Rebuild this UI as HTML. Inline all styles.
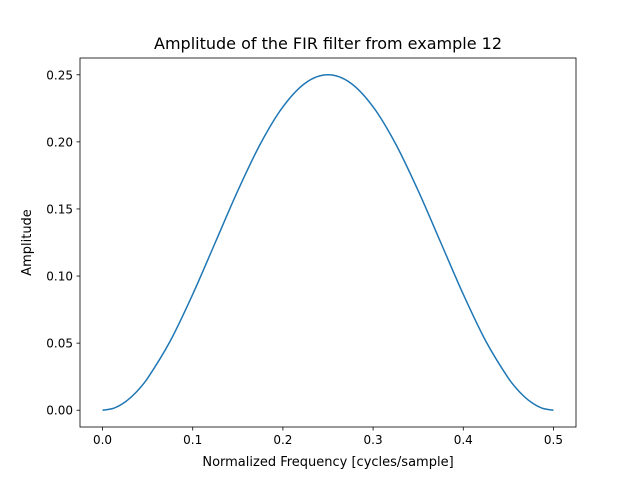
<!DOCTYPE html>
<html><head><meta charset="utf-8"><style>
body{margin:0;background:#fff;}
svg{font-family:"DejaVu Sans","Liberation Sans",sans-serif;}
</style></head><body>
<svg id="chart" width="640" height="480" viewBox="0 0 640 480">
<rect width="640" height="480" fill="#fff"/>
<text x="328" y="49" font-size="16" text-anchor="middle">Amplitude of the FIR filter from example 12</text>
<g id="plot"></g>
<rect x="80" y="58" width="496" height="369" fill="none" stroke="#000" stroke-width="0.8"/>
<text x="328" y="466" font-size="13" text-anchor="middle">Normalized Frequency [cycles/sample]</text>
<text transform="translate(31,242.5) rotate(-90)" font-size="13" text-anchor="middle">Amplitude</text>
</svg>
<script>
const freqs=[0,0.0125,0.025,0.0375,0.05,0.075,0.1,0.125,0.15,0.175,0.2,0.225,0.25,0.275,0.3,0.325,0.35,0.375,0.4,0.425,0.45,0.4625,0.475,0.4875,0.5];
const amps=[0,0.0015,0.0061,0.0136,0.0239,0.0515,0.0864,0.125,0.1636,0.1985,0.2261,0.2439,0.25,0.2439,0.2261,0.1985,0.1636,0.125,0.0864,0.0515,0.0239,0.0136,0.0061,0.0015,0];
const xTicks=[0,0.1,0.2,0.3,0.4,0.5];
const xTickLabels=["0.0","0.1","0.2","0.3","0.4","0.5"];
const yTicks=[0,0.05,0.1,0.15,0.2,0.25];
const yTickLabels=["0.00","0.05","0.10","0.15","0.20","0.25"];
const L=80,R=576,T=58,B=427,x0=-0.025,x1=0.525,y0=-0.0125,y1=0.2625;
const sx=v=>L+(v-x0)/(x1-x0)*(R-L);
const sy=v=>B-(v-y0)/(y1-y0)*(B-T);
const g=document.getElementById('plot');
const NS="http://www.w3.org/2000/svg";
function mk(t,a){const e=document.createElementNS(NS,t);for(const k in a)e.setAttribute(k,a[k]);g.appendChild(e);return e;}
xTicks.forEach((v,i)=>{
 const l=mk('line',{x1:sx(v),x2:sx(v),y1:B,y2:B+3.5,stroke:'#000','stroke-width':0.8});
 
 
 const t=mk('text',{x:sx(v),y:B+17,'font-size':12,'text-anchor':'middle'});t.textContent=xTickLabels[i];
 
 
});
yTicks.forEach((v,i)=>{
 const l=mk('line',{x1:L-3.5,x2:L,y1:sy(v),y2:sy(v),stroke:'#000','stroke-width':0.8});
 
 
 const t=mk('text',{x:L-7,y:sy(v)+4.5,'font-size':12,'text-anchor':'end'});t.textContent=yTickLabels[i];
 
 
});
const P=freqs.map((f,i)=>[sx(f),sy(amps[i])]);
let d=`M${P[0][0]},${P[0][1]}`;
for(let i=0;i<P.length-1;i++){
 const p0=P[Math.max(0,i-1)],p1=P[i],p2=P[i+1],p3=P[Math.min(P.length-1,i+2)];
 const h=p2[0]-p1[0];
 const m1=(p2[1]-p0[1])/((p2[0]-p0[0])||1), m2=(p3[1]-p1[1])/((p3[0]-p1[0])||1);
 d+=` C${p1[0]+h/3},${p1[1]+m1*h/3} ${p2[0]-h/3},${p2[1]-m2*h/3} ${p2[0]},${p2[1]}`;
}
const path=mk('path',{d:d,fill:'none',stroke:'#1f77b4','stroke-width':1.5,'stroke-linejoin':'round'});


</script>
</body></html>
